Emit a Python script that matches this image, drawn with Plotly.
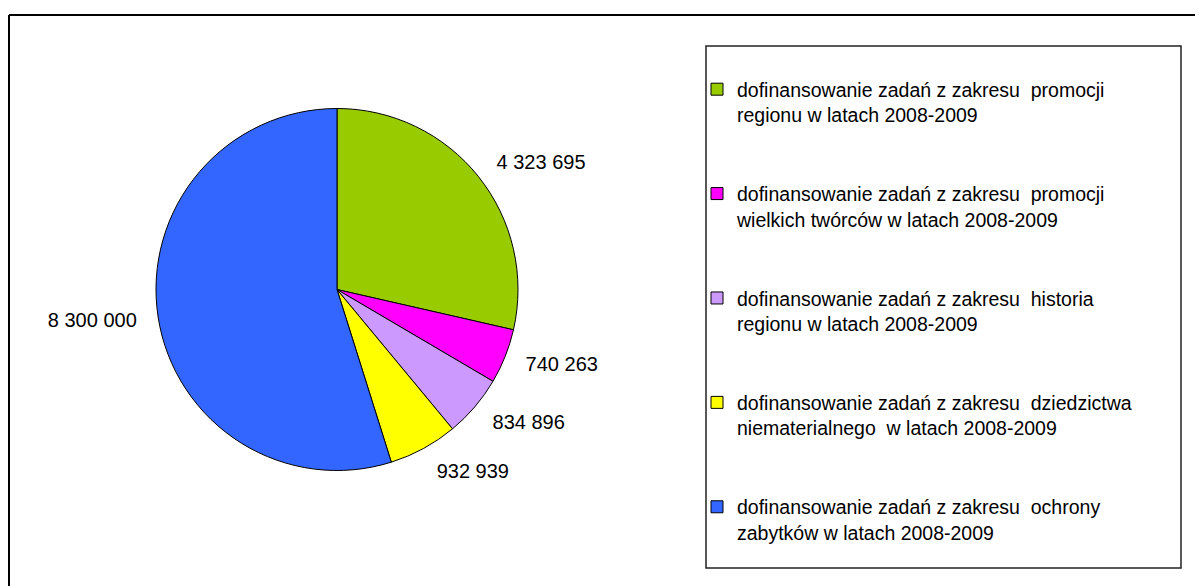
import plotly.graph_objects as go

categories = [
    "dofinansowanie zadań z zakresu  promocji<br>regionu w latach 2008-2009",
    "dofinansowanie zadań z zakresu  promocji<br>wielkich twórców w latach 2008-2009",
    "dofinansowanie zadań z zakresu  historia<br>regionu w latach 2008-2009",
    "dofinansowanie zadań z zakresu  dziedzictwa<br>niematerialnego  w latach 2008-2009",
    "dofinansowanie zadań z zakresu  ochrony<br>zabytków w latach 2008-2009",
]
values = [4323695, 740263, 834896, 932939, 8300000]
colors = ["#99CC00", "#FF00FF", "#CC99FF", "#FFFF00", "#3366FF"]

W, H = 1203, 586
OFF = 8  # page body margin offset
pad = "<br>\u00a0<br>\u00a0"
legend_labels = [c + (pad if i < len(categories) - 1 else "") for i, c in enumerate(categories)]


def px(x):
    return (x - OFF) / W


def py(y):
    return 1 - (y - OFF) / H


CX, CY, R = 337, 289.5, 181
RL = 197  # radius used to place the value labels a bit farther out

fig = go.Figure()
fig.add_trace(go.Pie(
    labels=legend_labels,
    values=values,
    sort=False,
    direction="clockwise",
    rotation=0,
    marker=dict(colors=colors, line=dict(color="black", width=1)),
    textinfo="none",
    domain=dict(x=[px(CX - R), px(CX + R)], y=[py(CY + R), py(CY - R)]),
    hoverinfo="label+value",
))
fig.add_trace(go.Pie(
    labels=legend_labels,
    values=values,
    sort=False,
    direction="clockwise",
    rotation=0,
    marker=dict(colors=["rgba(0,0,0,0)"] * len(values), line=dict(width=0)),
    textposition="outside",
    texttemplate="%{value:,}",
    textfont=dict(size=20, color="black", family="Liberation Sans, Arial, sans-serif"),
    domain=dict(x=[px(CX - RL), px(CX + RL)], y=[py(CY + RL), py(CY - RL)]),
    hoverinfo="skip",
    showlegend=False,
))

fig.update_layout(
    width=W, height=H,
    margin=dict(l=0, r=0, t=0, b=0),
    paper_bgcolor="white",
    plot_bgcolor="white",
    separators=", ",
    font=dict(family="Liberation Sans, Arial, sans-serif", color="black"),
    showlegend=True,
    legend=dict(
        x=px(697), y=py(70), xanchor="left", yanchor="top",
        font=dict(size=19.5, color="black"),
        borderwidth=0, bgcolor="rgba(0,0,0,0)",
        valign="top", traceorder="normal",
    ),
    shapes=[
        dict(type="line", xref="paper", yref="paper", x0=px(9), x1=1.0, y0=py(15), y1=py(15),
             line=dict(color="black", width=2)),
        dict(type="line", xref="paper", yref="paper", x0=px(9), x1=px(9), y0=0, y1=py(15),
             line=dict(color="black", width=2)),
        dict(type="rect", xref="paper", yref="paper", x0=px(706), x1=px(1181), y0=py(568), y1=py(46),
             line=dict(color="#222222", width=1.5), fillcolor="rgba(0,0,0,0)"),
    ],
)

fig.write_html("out.html")
